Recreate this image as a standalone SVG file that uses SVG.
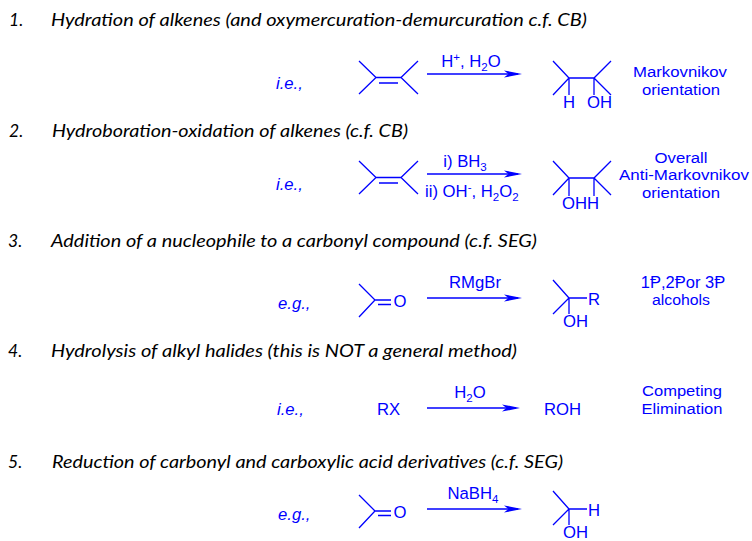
<svg xmlns="http://www.w3.org/2000/svg" width="752" height="541" viewBox="0 0 752 541">
<defs>
<style>
.h{font-family:Lato,"Open Sans","Liberation Sans",sans-serif;font-style:italic;font-size:17.5px;fill:#000}
.b{font-family:"Liberation Sans",Arial,"DejaVu Sans",sans-serif;font-size:16.7px;fill:#0000ff}
.nt{font-family:"Liberation Sans",Arial,"DejaVu Sans",sans-serif;font-size:15.2px;fill:#0000ff;text-anchor:middle}
.nt2{font-family:"Liberation Sans",Arial,"DejaVu Sans",sans-serif;font-size:16.5px;fill:#0000ff;text-anchor:middle}
.bi{font-family:"Liberation Sans",Arial,sans-serif;font-size:16.7px;font-style:italic;fill:#0000ff}
.m{text-anchor:middle}
.bond{stroke:#0000ff;stroke-width:1.3;fill:none}
.arrow{stroke:#0000ff;stroke-width:1.3;fill:none;marker-end:url(#ah)}
</style>
<marker id="ah" markerUnits="userSpaceOnUse" markerWidth="20" markerHeight="10" refX="14" refY="5" orient="auto">
<path d="M0,1.4 L18,5 L0,8.6 L4.5,5 Z" fill="#0000ff"/>
</marker>
</defs>
<rect width="752" height="541" fill="#fff"/>

<g id="heading-1"><text class="h" x="9" y="26">1.</text><text class="h" x="51" y="26" textLength="536" lengthAdjust="spacingAndGlyphs">Hydration of alkenes (and oxymercuration-demurcuration c.f. CB)</text></g>
<g id="heading-2"><text class="h" x="9" y="137">2.</text><text class="h" x="52" y="137" textLength="356" lengthAdjust="spacingAndGlyphs">Hydroboration-oxidation of alkenes (c.f. CB)</text></g>
<g id="heading-3"><text class="h" x="8" y="247">3.</text><text class="h" x="51" y="247" textLength="486" lengthAdjust="spacingAndGlyphs">Addition of a nucleophile to a carbonyl compound (c.f. SEG)</text></g>
<g id="heading-4"><text class="h" x="8" y="357">4.</text><text class="h" x="51" y="357" textLength="466" lengthAdjust="spacingAndGlyphs">Hydrolysis of alkyl halides (this is NOT a general method)</text></g>
<g id="heading-5"><text class="h" x="8" y="468">5.</text><text class="h" x="52" y="468" textLength="511" lengthAdjust="spacingAndGlyphs">Reduction of carbonyl and carboxylic acid derivatives (c.f. SEG)</text></g>

<!-- Reaction 1 -->
<g id="r1-label"><text class="bi" x="276" y="89">i.e.,</text></g>
<g id="r1-reactant">
<path class="bond" d="M359,61 L376,77.5 L359,94 M376,77.5 L401,77.5 M379,83 L398,83 M418,61 L401,77.5 L418,94"/>
</g>
<g id="r1-product">
<path class="bond" d="M553,61 L569,78 L553,95 M569,78 L594,78 L611,61 M594,78 L611,95 M569,78 L569,95 M594,78 L594,95"/>
<text class="b m" x="569" y="108">H</text>
<text class="b" x="587" y="108">OH</text>
</g>
<g id="r1-note"><text class="nt" x="680" y="77" textLength="94" lengthAdjust="spacingAndGlyphs">Markovnikov</text><text class="nt" x="681" y="94.5" textLength="78" lengthAdjust="spacingAndGlyphs">orientation</text></g>

<!-- Reaction 2 -->
<g id="r2-label"><text class="bi" x="276" y="190">i.e.,</text></g>
<g id="r2-reactant">
<path class="bond" d="M359,161 L376,177.5 L359,194 M376,177.5 L401,177.5 M379,183 L398,183 M418,161 L401,177.5 L418,194"/>
</g>
<g id="r2-product">
<path class="bond" d="M553,161 L569,178 L553,195 M569,178 L594,178 L611,161 M594,178 L611,195 M569,178 L569,196 M594,178 L594,196"/>
<text class="b" x="562" y="209">OHH</text>
</g>
<g id="r2-note"><text class="nt" x="681" y="162.5" textLength="53" lengthAdjust="spacingAndGlyphs">Overall</text><text class="nt" x="684" y="180" textLength="130" lengthAdjust="spacingAndGlyphs">Anti-Markovnikov</text><text class="nt" x="681" y="197.5" textLength="78" lengthAdjust="spacingAndGlyphs">orientation</text></g>

<!-- Reaction 3 -->
<g id="r3-label"><text class="bi" x="278" y="309">e.g.,</text></g>
<g id="r3-reactant">
<path class="bond" d="M359,284 L375,300 L359,317 M375,300 L391,300 M378,304.5 L391,304.5"/>
<text class="b m" x="400" y="307">O</text>
</g>
<g id="r3-product">
<path class="bond" d="M553,280 L569,298 L553,314 M569,298 L587,298 M569,298 L569,314"/>
<text class="b" x="588" y="305">R</text>
<text class="b" x="563" y="327">OH</text>
</g>
<g id="r3-note"><text class="nt2" x="683" y="287.5">1Ᵽ,2Ᵽor 3Ᵽ</text><text class="nt" x="681" y="305" textLength="58" lengthAdjust="spacingAndGlyphs">alcohols</text></g>

<!-- Reaction 4 -->
<g id="r4-label"><text class="bi" x="277" y="415">i.e.,</text></g>
<g id="r4-reactant"><text class="b" x="377" y="415">RX</text></g>
<g id="r4-product"><text class="b" x="544" y="415">ROH</text></g>
<g id="r4-note"><text class="nt" x="682" y="396" textLength="80" lengthAdjust="spacingAndGlyphs">Competing</text><text class="nt" x="682" y="413.5" textLength="81" lengthAdjust="spacingAndGlyphs">Elimination</text></g>

<!-- Reaction 5 -->
<g id="r5-label"><text class="bi" x="278" y="520">e.g.,</text></g>
<g id="r5-reactant">
<path class="bond" d="M359,495 L375,511 L359,528 M375,511 L391,511 M378,515.5 L391,515.5"/>
<text class="b m" x="400" y="518">O</text>
</g>
<g id="r5-product">
<path class="bond" d="M553,491 L569,509 L553,525 M569,509 L587,509 M569,509 L569,525"/>
<text class="b" x="588" y="516">H</text>
<text class="b" x="563" y="538">OH</text>
</g>

<!-- Connectors (reaction arrows) with reagent labels -->
<g id="connectors">
<line class="arrow" x1="427" y1="74" x2="518" y2="74"/>
<line class="arrow" x1="427" y1="174" x2="518" y2="174"/>
<line class="arrow" x1="427" y1="298" x2="518" y2="298"/>
<line class="arrow" x1="427" y1="408" x2="516" y2="408"/>
<line class="arrow" x1="427" y1="509" x2="518" y2="509"/>
</g>
<g id="reagents">
<text class="b m" x="471" y="67">H<tspan font-size="11.5" dy="-6">+</tspan><tspan dy="6">, H</tspan><tspan font-size="11.5" dy="4">2</tspan><tspan dy="-4">O</tspan></text>
<text class="b m" x="465" y="167">i) BH<tspan font-size="11.5" dy="4">3</tspan></text>
<text class="b" x="425" y="197">ii) OH<tspan font-size="11.5" dy="-6">-</tspan><tspan dy="6">, H</tspan><tspan font-size="11.5" dy="4">2</tspan><tspan dy="-4">O</tspan><tspan font-size="11.5" dy="4">2</tspan></text>
<text class="b m" x="475" y="288">RMgBr</text>
<text class="b m" x="470" y="398">H<tspan font-size="11.5" dy="4">2</tspan><tspan dy="-4">O</tspan></text>
<text class="b m" x="473" y="499">NaBH<tspan font-size="11.5" dy="4">4</tspan></text>
</g>
</svg>
